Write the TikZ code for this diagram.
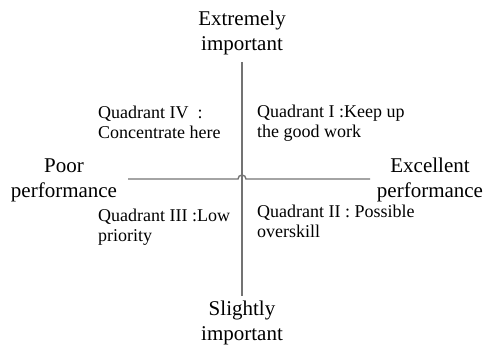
\documentclass[tikz,border=0pt]{standalone}
\usepackage{fontspec}
\setmainfont{Liberation Serif}
\usetikzlibrary{
	calc,
	positioning,
}
\tikzset{axis label/.style={draw=none,inner sep=0mm,align=center,font=\fontsize{21}{25}\selectfont,}}
\tikzset{quadrant text/.style={draw=none,inner sep=0mm,align=left,anchor=base west,font=\fontsize{18}{20.5}\selectfont,}}
\tikzset{axis/.style={draw=black!55,line width=1.4pt,}}

\begin{document}
\begin{tikzpicture}[x=1pt,y=1pt]
\useasboundingbox (0,0) rectangle (486,347);

\node[axis label](top) at(242,314) {Extremely\\important};
\node[axis label](bottom) at(242,24) {Slightly\\important};
\node[axis label](left) at(64,167) {Poor\\performance};
\node[axis label](right) at(430,167) {Excellent\\performance};

\coordinate(n) at(242,285);
\coordinate(s) at(242,51);
\coordinate(w) at(128,168);
\coordinate(e) at(370,168);
\coordinate(hop) at(238,168);

\draw[axis] (n) -- (s);
\draw[axis] (w) -- (hop) arc[start angle=180,end angle=0,radius=4] -- (e);

% base anchor sits on the last line
\node[quadrant text](q4) at(98,208) {Quadrant IV~~:\\Concentrate here};
\node[quadrant text](q1) at(257,209) {Quadrant I :Keep up\\the good work};
\node[quadrant text](q3) at(98,105) {Quadrant III :Low\\priority};
\node[quadrant text](q2) at(257,109) {Quadrant II : Possible\\overskill};

\end{tikzpicture}
\end{document}
